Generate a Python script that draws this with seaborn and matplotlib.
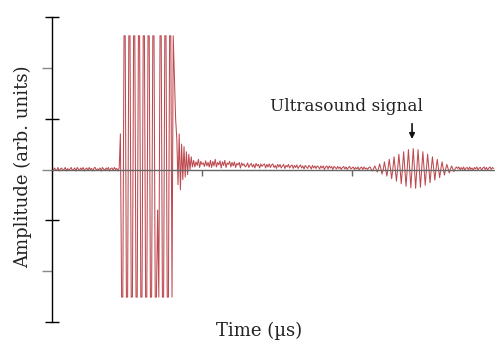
import numpy as np
import pandas as pd
import matplotlib
matplotlib.use("Agg")
import matplotlib.pyplot as plt
import seaborn as sns

dt = 0.08

# Trace amplitude, segment by segment (arb. units)
pre_trigger = [
    0.02, -0.03, 0.03, 0.00, -0.02, 0.04, -0.03, 0.01, 0.03, -0.02,
    0.00, 0.04, -0.03, 0.02, -0.02, 0.01, 0.04, -0.02, 0.00, 0.03,
    -0.03, 0.04, 0.01, -0.02, 0.03, 0.00, 0.04, -0.03, 0.01, 0.03,
    -0.02, 0.04, 0.00, 0.02, -0.03, 0.03, 0.04, -0.02, 0.01, 0.00,
    0.03, -0.03, 0.04, 0.01, -0.02, 0.03, 0.00, 0.04, -0.03, 0.02,
    0.03, -0.02, 0.04, 0.00, 0.02, -0.03, 0.03,
]

# Laser excitation: the digitiser clips at both rails
excitation = [
    0.70, -2.51, -2.51, 2.63, 2.63, -2.51, -2.51, 2.63, 2.63, -2.51,
    -2.51, 2.63, 2.63, -2.51, -2.51, 2.63, 2.63, -2.51, -2.51, 2.63,
    2.63, -2.51, -2.51, 2.63, 2.63, -2.51, -2.51, 2.63, 2.63, -2.51,
    -2.51, -0.80, -2.51, 2.63, 2.63, -2.51, -2.51, 2.63, 2.63, -2.51,
    -2.51, 2.63, 2.63, -2.51, 2.63,
]

ringdown = [
    1.80, 1.00, 0.60, -0.30, 0.70, -0.40, 0.50, -0.20, 0.45, -0.15,
    0.35, -0.10, 0.30, 0.00, 0.25, 0.05, 0.18, 0.05, 0.15, 0.08,
    0.20, 0.04, 0.16, 0.10, 0.13, 0.06, 0.17, 0.07, 0.14, 0.05,
]

baseline = [
    0.18, 0.04, 0.16, 0.07, 0.20, 0.05, 0.14, 0.09, 0.17, 0.03,
    0.15, 0.08, 0.18, 0.04, 0.13, 0.10, 0.16, 0.05, 0.14, 0.07,
    0.15, 0.04, 0.12, 0.09, 0.14, 0.03, 0.13, 0.08, 0.11, 0.05,
    0.07, 0.13, 0.04, 0.09, 0.12, 0.05, 0.10, 0.03, 0.12, 0.07,
    0.10, 0.03, 0.11, 0.06, 0.09, 0.11, 0.03, 0.10, 0.05, 0.11,
    0.04, 0.09, 0.11, 0.04, 0.08, 0.02, 0.10, 0.05, 0.10, 0.03,
    0.07, 0.10, 0.02, 0.08, 0.05, 0.10, 0.03, 0.07, 0.09, 0.02,
    0.08, 0.04, 0.09, 0.02, 0.06, 0.09, 0.03, 0.07, 0.01, 0.08,
    0.05, 0.02, 0.08, 0.06, 0.01, 0.08, 0.03, 0.07, 0.02, 0.07,
    0.05, 0.01, 0.07, 0.03, 0.07, 0.00, 0.05, 0.07, 0.01, 0.07,
    0.03, 0.06, 0.00, 0.06, 0.04, 0.01, 0.06, 0.02, 0.05, 0.00,
    0.04, 0.06, 0.01, 0.05, 0.00, 0.04, 0.06, 0.01, 0.03, 0.05,
    0.00, 0.04, 0.01, 0.05, -0.01, 0.03, 0.05, 0.00, 0.05, 0.01,
    0.03, 0.00, 0.04,
]

# Ultrasound echo wave packet
echo = [
    0.05, 0.00, -0.03, 0.02, 0.07, 0.01, -0.05, 0.01,
    0.11, 0.02, -0.09, 0.00, 0.15, 0.01, -0.13, 0.02,
    0.20, 0.02, -0.18, 0.01, 0.25, 0.02, -0.23, 0.01,
    0.30, 0.03, -0.28, 0.01, 0.35, 0.02, -0.33, 0.01,
    0.39, 0.02, -0.36, 0.01, 0.41, 0.03, -0.37, 0.02,
    0.39, 0.02, -0.35, 0.01, 0.35, 0.02, -0.31, 0.01,
    0.30, 0.02, -0.26, 0.01, 0.25, 0.02, -0.21, 0.01,
    0.20, 0.02, -0.16, 0.01, 0.15, 0.02, -0.11, 0.01,
    0.10, 0.02, -0.07, 0.01, 0.07, 0.01, -0.04, 0.02,
    0.05,
]

tail = [
    0.02, 0.05, -0.01, 0.04, 0.00, 0.05, -0.02, 0.03, 0.04, -0.01,
    0.05, 0.00, 0.03, -0.02, 0.04, 0.01, 0.05, -0.01, 0.03, 0.04,
    -0.02, 0.03, 0.05, 0.00, 0.04, -0.01, 0.03, 0.05, 0.00, 0.04,
    0.02,
]

amplitude = np.array(pre_trigger + excitation + ringdown + baseline + echo + tail)
time_us = np.arange(amplitude.size) * dt
trace = pd.DataFrame({"time": time_us, "amplitude": amplitude})

sns.set_theme(style="white")
plt.rcParams["font.family"] = ["DejaVu Serif"]

fig = plt.figure(figsize=(4.95, 3.4), dpi=100)
ax = fig.add_axes([52 / 495, 18 / 340, 443 / 495, 305 / 340])

sns.lineplot(data=trace, x="time", y="amplitude", ax=ax, color="#bd4a50",
             linewidth=0.75, estimator=None, errorbar=None, sort=False)

ax.set_xlim(0, 29.53)
ax.set_ylim(-3, 3)

for side in ("top", "right"):
    ax.spines[side].set_visible(False)
ax.spines["left"].set_color("black")
ax.spines["left"].set_linewidth(1.0)
ax.spines["bottom"].set_position(("data", 0))
ax.spines["bottom"].set_color("#666666")
ax.spines["bottom"].set_linewidth(1.0)
ax.spines["bottom"].set_zorder(3)

ax.set_xticks([10, 20])
ax.tick_params(axis="x", direction="out", length=4, width=1, color="#666666",
               labelbottom=False, bottom=True)
ax.set_yticks([-3, -1, 1, 3])
ax.set_yticks([-2, 0, 2], minor=True)
ax.tick_params(axis="y", which="major", direction="inout", length=10, width=1,
               color="black", labelleft=False, left=True)
ax.tick_params(axis="y", which="minor", direction="out", length=7, width=1,
               color="#888888", left=True)

ax.set_xlabel("Time (µs)", fontsize=13, color="#222222")
ax.xaxis.set_label_coords(0.467, 0.0)
ax.set_ylabel("Amplitude (arb. units)", fontsize=13, color="#222222")
ax.yaxis.set_label_coords(-0.045, 0.51)

ax.text(19.6, 1.15, "Ultrasound signal", ha="center", va="baseline",
        fontsize=12.2, color="#222222")
ax.annotate("", xy=(24.0, 0.60), xytext=(24.0, 0.90),
            arrowprops=dict(arrowstyle="-|>", color="#111111", lw=1.2,
                            mutation_scale=8, shrinkA=0, shrinkB=0))

fig.savefig("out.png", dpi=100)
